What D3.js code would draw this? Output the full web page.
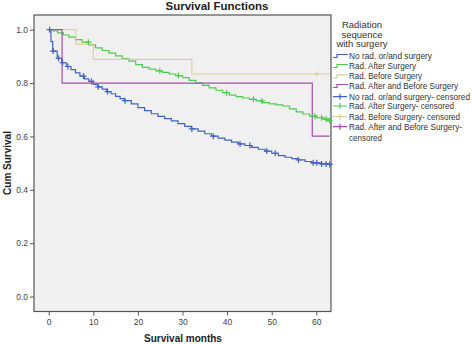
<!DOCTYPE html>
<html>
<head>
<meta charset="utf-8">
<script src="https://cdn.jsdelivr.net/npm/d3@7"></script>
<style>
  html, body { margin: 0; background: #fff; overflow: hidden; }
  svg { display: block; }
  text { font-family: "Liberation Sans", Arial, sans-serif; }
</style>
</head>
<body>
<div id="chart"></div>
<script>
// survival steps: [month, cum survival]
const noRad = [[0,1],[0.5,0.955],[0.9,0.92],[1.9,0.893],[2.9,0.876],[4,0.862],[5,0.85],[6,0.838],[7,0.826],[8,0.816],[9,0.806],[10,0.795],[11,0.786],[12,0.777],[13,0.768],[14,0.76],[15,0.75],[16,0.742],[17,0.734],[18.5,0.722],[20,0.708],[21.5,0.697],[23,0.685],[24.5,0.675],[26,0.667],[27.5,0.658],[29,0.648],[30.5,0.638],[32,0.628],[33.5,0.62],[35,0.61],[36.5,0.601],[38,0.594],[39.5,0.586],[41,0.579],[42.5,0.572],[44,0.566],[45.5,0.559],[47,0.552],[48.5,0.545],[50,0.537],[51.5,0.528],[53,0.522],[54.5,0.517],[56,0.512],[57.5,0.506],[59,0.501],[61,0.497],[62.5,0.495]];
const radAfter = [[0,1],[1,0.995],[2,0.988],[3.3,0.98],[4.5,0.972],[6,0.963],[7.5,0.953],[9,0.943],[10.5,0.932],[12,0.922],[13.5,0.912],[15,0.902],[16.5,0.892],[18,0.882],[19.5,0.869],[21,0.859],[22.5,0.852],[24,0.846],[25.5,0.84],[27,0.834],[28.5,0.828],[30,0.82],[31.5,0.81],[33,0.8],[34.5,0.791],[36,0.782],[37.5,0.773],[39,0.764],[40.5,0.755],[42,0.749],[43.5,0.744],[45,0.739],[46.5,0.733],[48,0.727],[49.5,0.722],[51,0.718],[52.5,0.714],[54,0.703],[55.5,0.692],[57,0.684],[58.5,0.676],[60,0.67],[61.5,0.665],[62.7,0.659]];
const radBefore = [[0,1],[6.1,0.946],[10,0.889],[32.1,0.834]];
const radBoth = [[0,1],[3,0.8],[59.1,0.601]];
const endMonth = 63;

// censored cases, months
const noRadCens = [0.2,1,2.2,3.1,4.3,7.8,9.6,11.1,13.2,17.1,32.1,36.9,42.9,45.1,48.9,50.8,56,59.3,60.1,61.2,62.2,63];
const radAfterCens = [8.9,24.9,29.1,39.9,45.9,47.8,59.7,61.2,62.2,63];
const radBeforeCens = [60.1];
const radBothCens = [];

const xTicks = [0,10,20,30,40,50,60];
const yTicks = [0,0.2,0.4,0.6,0.8,1.0];

const groups = [
  { name: "No rad. or/and surgery", steps: noRad, cens: noRadCens, color: "#4262c4" },
  { name: "Rad. After Surgery", steps: radAfter, cens: radAfterCens, color: "#4fcc4f" },
  { name: "Rad. Before Surgery", steps: radBefore, cens: radBeforeCens, color: "#d9d1a3" },
  { name: "Rad. After and Before Surgery", steps: radBoth, cens: radBothCens, color: "#a050a8" }
];

const W = 472, H = 344;
const pLeft = 34, pRight = 331, pTop = 15, pBottom = 311.5;

const svg = d3.select("#chart").append("svg")
  .attr("width", W).attr("height", H);

const x = d3.scaleLinear().domain([-3.3, 63.3]).range([pLeft, pRight]);
const y = d3.scaleLinear().domain([-0.056, 1.055]).range([pBottom, pTop]);

svg.append("rect")
  .attr("x", pLeft).attr("y", pTop)
  .attr("width", pRight - pLeft).attr("height", pBottom - pTop)
  .attr("fill", "#f0f0f0")
  .attr("stroke", "#555").attr("stroke-width", 1.2);

svg.append("text")
  .attr("x", 217).attr("y", 10)
  .attr("text-anchor", "middle")
  .attr("font-size", 11.5).attr("font-weight", "bold")
  .attr("fill", "#222")
  .text("Survival Functions");

let yAxis = svg.append("g")
  .attr("transform", "translate(" + pLeft + ",0)")
  .call(d3.axisLeft(y).tickValues(yTicks).tickFormat(d3.format(".1f")).tickSize(4).tickPadding(2));
let xAxis = svg.append("g")
  .attr("transform", "translate(0," + pBottom + ")")
  .call(d3.axisBottom(x).tickValues(xTicks).tickSize(4).tickPadding(3));
[yAxis, xAxis].forEach(function(a) {
  a.select(".domain").remove();
  a.selectAll(".tick line").attr("stroke", "#555");
  a.selectAll(".tick text").attr("fill", "#444").attr("font-size", 8.5)
    .style("font-family", "'Liberation Sans', Arial, sans-serif");
});

svg.append("text")
  .attr("x", 183).attr("y", 342)
  .attr("text-anchor", "middle")
  .attr("font-size", 10).attr("font-weight", "bold").attr("fill", "#222")
  .text("Survival months");
svg.append("text")
  .attr("transform", "translate(11,163) rotate(-90)")
  .attr("text-anchor", "middle")
  .attr("font-size", 10).attr("font-weight", "bold").attr("fill", "#222")
  .text("Cum Survival");

function survAt(steps, t) {
  let s = steps[0][1];
  steps.forEach(function(p) { if (p[0] <= t) s = p[1]; });
  return s;
}

let line = d3.line().curve(d3.curveStepAfter)
  .x(function(d) { return x(d[0]); })
  .y(function(d) { return y(d[1]); });

let plot = svg.append("g");
groups.forEach(function(g) {
  let pts = g.steps.concat([[endMonth, g.steps[g.steps.length - 1][1]]]);
  plot.append("path")
    .attr("d", line(pts))
    .attr("fill", "none")
    .attr("stroke", g.color)
    .attr("stroke-width", 1.2);
});
groups.forEach(function(g) {
  plot.selectAll()
    .data(g.cens)
    .enter().append("path")
    .attr("d", function(t) {
      let cx = x(t), cy = y(survAt(g.steps, t));
      return "M" + (cx - 3) + "," + cy + "H" + (cx + 3) + "M" + cx + "," + (cy - 3) + "V" + (cy + 3);
    })
    .attr("stroke", g.color)
    .attr("stroke-width", 1.2);
});

// legend
let leg = svg.append("g");
["Radiation", "sequence", "with surgery"].forEach(function(s, i) {
  leg.append("text")
    .attr("x", 362).attr("y", 28 + i * 9.6)
    .attr("text-anchor", "middle")
    .attr("font-size", 9.5).attr("fill", "#333")
    .text(s);
});
let rowY = [56, 66, 76.3, 86, 96.7, 106, 116.7, 126.7];
// label widths as measured on the original legend
let stepW = [83, 67, 73, 109], censW = [121, 105, 111, 113];
let legFont = 8.6, labelX = 349;
function legText(s, yy, w) {
  leg.append("text")
    .attr("x", labelX).attr("y", yy + 3)
    .attr("font-size", legFont).attr("fill", "#333")
    .attr("textLength", w).attr("lengthAdjust", "spacingAndGlyphs")
    .text(s);
}
groups.forEach(function(g, i) {
  let yy = rowY[i];
  leg.append("path")
    .attr("d", "M333," + (yy + 1.5) + "H337V" + (yy - 1.5) + "H348")
    .attr("fill", "none").attr("stroke", g.color).attr("stroke-width", 1.2);
  legText(g.name, yy, stepW[i]);
});
groups.forEach(function(g, i) {
  let yy = rowY[i + 4];
  leg.append("path")
    .attr("d", "M333," + yy + "H347M340," + (yy - 3) + "V" + (yy + 3))
    .attr("fill", "none").attr("stroke", g.color).attr("stroke-width", 1.2);
  let label = i < 3 ? g.name + "- censored" : g.name + "-";
  legText(label, yy, censW[i]);
  if (i == 3) legText("censored", 138.3, 33);
});
</script>
</body>
</html>
